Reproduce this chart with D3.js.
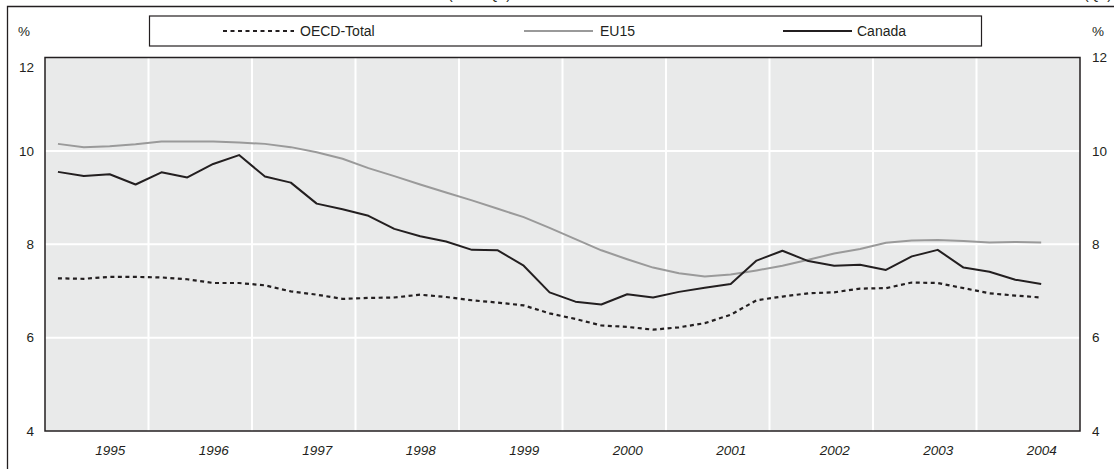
<!DOCTYPE html>
<html>
<head>
<meta charset="utf-8">
<script src="https://cdn.jsdelivr.net/npm/d3@7/dist/d3.min.js"></script>
<style>
  body { margin: 0; background: #fff; }
  svg { display: block; font-family: "Liberation Sans", Arial, sans-serif; }
</style>
</head>
<body>
<script>
/*
		 DATA
		 Quarterly rates, 1995 Q1 to 2004 Q3 (39 quarters)
*/
var years = [1995, 1996, 1997, 1998, 1999, 2000, 2001, 2002, 2003, 2004];
var yTicks = [4, 6, 8, 10, 12];
var seriesNames = ["OECD-Total", "EU15", "Canada"];

var oecdTotal = [7.27, 7.26, 7.30, 7.30, 7.29, 7.25, 7.17, 7.17, 7.12, 6.99,
                 6.92, 6.83, 6.85, 6.86, 6.92, 6.87, 6.80, 6.75, 6.69, 6.52,
                 6.40, 6.26, 6.23, 6.17, 6.22, 6.31, 6.49, 6.80, 6.88, 6.95,
                 6.97, 7.05, 7.06, 7.18, 7.17, 7.06, 6.95, 6.90, 6.86];

var eu15 = [10.15, 10.08, 10.10, 10.14, 10.20, 10.20, 10.20, 10.18, 10.15, 10.08,
            9.97, 9.83, 9.63, 9.46, 9.28, 9.11, 8.94, 8.76, 8.58, 8.35,
            8.11, 7.87, 7.68, 7.50, 7.38, 7.31, 7.35, 7.44, 7.54, 7.67,
            7.80, 7.90, 8.03, 8.08, 8.09, 8.07, 8.04, 8.05, 8.04];

var canada = [9.55, 9.46, 9.50, 9.28, 9.54, 9.43, 9.72, 9.91, 9.45, 9.32,
              8.87, 8.75, 8.61, 8.33, 8.17, 8.06, 7.88, 7.87, 7.54, 6.97,
              6.77, 6.71, 6.93, 6.86, 6.98, 7.07, 7.15, 7.65, 7.86, 7.64,
              7.54, 7.56, 7.45, 7.74, 7.88, 7.50, 7.41, 7.24, 7.15];

/*
		 LAYOUT
*/
var width = 1114;
var height = 469;
var plot = {left: 45, right: 1080, top: 57.5, bottom: 431};

var svg = d3.select("body").append("svg")
    .attr("width", width)
    .attr("height", height);

// time in years, a quarter point sits in the middle of its quarter
var qTime = function(i) { return years[0] + (i + 0.5) / 4; };

var x = d3.scaleLinear()
    .domain([years[0], years[years.length - 1] + 1])
    .range([plot.left, plot.right]);

var y = d3.scaleLinear()
    .domain([4, 12])
    .range([plot.bottom, plot.top]);

/*
		 FRAME, CUT TITLE, LEGEND
*/
svg.append("path")
    .attr("d", "M7.5," + height + "V6.5H" + width)
    .attr("fill", "none")
    .attr("stroke", "#231f20")
    .attr("stroke-width", 1.3);

// bottoms of a title line above the frame, cut off like in the source
svg.append("text").attr("x", 448).attr("y", -1)
    .style("font-size", "14px").attr("fill", "#231f20")
    .text("(1995 Q1)");
svg.append("text").attr("x", 1084).attr("y", -1)
    .style("font-size", "14px").attr("fill", "#231f20")
    .text("(Q3)");

var legend = svg.append("g");
legend.append("rect")
    .attr("x", 149.5).attr("y", 16)
    .attr("width", 832).attr("height", 30)
    .attr("fill", "#fff")
    .attr("stroke", "#231f20")
    .attr("stroke-width", 1.2);

var legendItems = [
  {name: seriesNames[0], x1: 223, x2: 294, tx: 300, color: "#231f20", dash: "4,3.5"},
  {name: seriesNames[1], x1: 524, x2: 593, tx: 600, color: "#9a9a9a", dash: null},
  {name: seriesNames[2], x1: 783, x2: 852, tx: 857, color: "#231f20", dash: null}
];

legendItems.forEach(function(d) {
  legend.append("line")
      .attr("x1", d.x1).attr("x2", d.x2)
      .attr("y1", 31).attr("y2", 31)
      .attr("stroke", d.color)
      .attr("stroke-width", 2)
      .attr("stroke-dasharray", d.dash);
  legend.append("text")
      .attr("x", d.tx).attr("y", 31)
      .attr("dy", "0.35em")
      .style("font-size", "14px")
      .attr("fill", "#231f20")
      .text(d.name);
});

// % units on both sides
svg.append("text").attr("x", 18).attr("y", 31).attr("dy", "0.35em")
    .style("font-size", "13.5px").attr("fill", "#231f20").text("%");
svg.append("text").attr("x", 1092).attr("y", 31).attr("dy", "0.35em")
    .style("font-size", "13.5px").attr("fill", "#231f20").text("%");

/*
		 PLOT BACKGROUND AND GRID
*/
svg.append("rect")
    .attr("x", plot.left).attr("y", plot.top)
    .attr("width", plot.right - plot.left)
    .attr("height", plot.bottom - plot.top)
    .attr("fill", "#e9eaea");

svg.append("g").selectAll("line")
    .data(years.slice(1))
  .enter().append("line")
    .attr("x1", function(d) { return x(d); })
    .attr("x2", function(d) { return x(d); })
    .attr("y1", plot.top).attr("y2", plot.bottom)
    .attr("stroke", "#fff")
    .attr("stroke-width", 2);

svg.append("g").selectAll("line")
    .data(yTicks.filter(function(d) { return d > 4 && d < 12; }))
  .enter().append("line")
    .attr("x1", plot.left).attr("x2", plot.right)
    .attr("y1", function(d) { return y(d); })
    .attr("y2", function(d) { return y(d); })
    .attr("stroke", "#fff")
    .attr("stroke-width", 2);

/*
		 SERIES
*/
var line = d3.line()
    .x(function(d, i) { return x(qTime(i)); })
    .y(function(d) { return y(d); });

svg.append("path").datum(eu15)
    .attr("d", line)
    .attr("fill", "none")
    .attr("stroke", "#9a9a9a")
    .attr("stroke-width", 2);

svg.append("path").datum(oecdTotal)
    .attr("d", line)
    .attr("fill", "none")
    .attr("stroke", "#231f20")
    .attr("stroke-width", 2.2)
    .attr("stroke-dasharray", "4,3.5");

svg.append("path").datum(canada)
    .attr("d", line)
    .attr("fill", "none")
    .attr("stroke", "#231f20")
    .attr("stroke-width", 2)
    .attr("stroke-linejoin", "round");

// plot border on top
svg.append("rect")
    .attr("x", plot.left).attr("y", plot.top)
    .attr("width", plot.right - plot.left)
    .attr("height", plot.bottom - plot.top)
    .attr("fill", "none")
    .attr("stroke", "#231f20")
    .attr("stroke-width", 1.5);

/*
		 AXES
*/
var yLeft = svg.append("g")
    .attr("transform", "translate(" + plot.left + ",0)")
    .call(d3.axisLeft(y).tickValues(yTicks).tickSize(0).tickPadding(11));

var yRight = svg.append("g")
    .attr("transform", "translate(" + plot.right + ",0)")
    .call(d3.axisRight(y).tickValues(yTicks).tickSize(0).tickPadding(12));

// year labels sit under the third quarter
var xAxis = svg.append("g")
    .attr("transform", "translate(0," + plot.bottom + ")")
    .call(d3.axisBottom(x)
      .tickValues(years.map(function(d) { return d + 0.625; }))
      .tickFormat(function(d) { return Math.floor(d); })
      .tickSize(0).tickPadding(14));

[yLeft, yRight, xAxis].forEach(function(g) {
  g.select(".domain").remove();
  g.selectAll("text")
      .attr("fill", "#231f20")
      .style("font-family", "'Liberation Sans', Arial, sans-serif")
      .style("font-size", "13.5px");
});
xAxis.selectAll("text").style("font-style", "italic");

// top label on the left sits a little under the frame
yLeft.selectAll(".tick").filter(function(d) { return d === 12; })
    .select("text").attr("dy", "1.05em");
</script>
</body>
</html>
